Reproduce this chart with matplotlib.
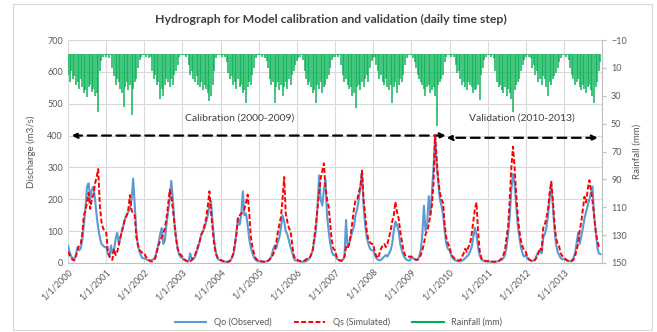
import numpy as np
import pandas as pd
import matplotlib
matplotlib.use("Agg")
import matplotlib.pyplot as plt
from matplotlib.lines import Line2D
from matplotlib.patches import Rectangle

plt.rcParams['font.family'] = ['Lato', 'DejaVu Sans']

# half-monthly readings (1st and 16th of each month)
years = list(range(2000, 2014))

qo = {
    2000: [55, 35, 20, 15, 12, 25, 50, 40, 45, 70, 120, 170, 240, 250, 200, 230, 240, 200, 150, 110, 80, 60, 55, 50],
    2001: [50, 30, 20, 55, 30, 40, 75, 95, 60, 80, 100, 120, 140, 150, 160, 170, 200, 265, 180, 100, 55, 35, 22, 15],
    2002: [15, 12, 10, 8, 8, 10, 12, 20, 40, 60, 90, 110, 60, 70, 120, 160, 200, 258, 200, 130, 80, 45, 25, 18],
    2003: [15, 10, 8, 6, 5, 30, 10, 12, 20, 35, 50, 70, 90, 100, 110, 130, 150, 180, 195, 130, 70, 35, 15, 10],
    2004: [8, 6, 5, 4, 4, 5, 8, 15, 25, 50, 100, 140, 120, 150, 225, 150, 155, 120, 75, 50, 30, 18, 10, 6],
    2005: [6, 5, 4, 4, 4, 5, 6, 10, 20, 40, 55, 45, 65, 80, 110, 150, 130, 100, 90, 70, 50, 35, 15, 8],
    2006: [8, 6, 5, 4, 4, 5, 6, 10, 15, 25, 40, 70, 100, 170, 275, 200, 180, 230, 260, 150, 100, 60, 35, 25],
    2007: [25, 15, 10, 8, 8, 10, 20, 135, 50, 60, 80, 100, 114, 150, 170, 200, 240, 287, 180, 120, 80, 60, 45, 40],
    2008: [40, 25, 15, 10, 8, 10, 15, 20, 25, 20, 30, 40, 60, 100, 130, 120, 100, 60, 40, 25, 15, 10, 8, 8],
    2009: [20, 15, 12, 10, 10, 20, 40, 90, 180, 100, 120, 210, 150, 220, 300, 400, 300, 250, 200, 180, 150, 100, 60, 45],
    2010: [40, 25, 15, 10, 8, 6, 5, 5, 8, 10, 15, 20, 25, 35, 50, 80, 110, 90, 50, 25, 12, 8, 6, 5],
    2011: [5, 5, 4, 4, 4, 4, 5, 6, 8, 10, 15, 25, 50, 90, 150, 230, 280, 250, 180, 120, 80, 50, 30, 20],
    2012: [25, 15, 10, 8, 6, 8, 12, 25, 35, 40, 30, 80, 90, 110, 150, 200, 250, 180, 110, 60, 35, 25, 15, 12],
    2013: [12, 10, 8, 6, 5, 8, 15, 30, 60, 95, 60, 85, 110, 140, 160, 180, 200, 220, 240, 150, 100, 50, 30, 28],
}

qs = {
    2000: [35, 25, 15, 10, 8, 20, 40, 55, 60, 90, 150, 165, 190, 220, 170, 200, 215, 250, 270, 295, 180, 130, 110, 100],
    2001: [95, 40, 20, 12, 10, 45, 25, 35, 55, 80, 100, 120, 140, 150, 170, 213, 165, 155, 150, 83, 55, 40, 36, 30],
    2002: [30, 20, 12, 8, 5, 5, 8, 15, 35, 55, 70, 80, 90, 110, 140, 180, 230, 210, 170, 120, 75, 45, 30, 25],
    2003: [20, 12, 8, 5, 4, 5, 10, 18, 25, 40, 55, 70, 90, 100, 120, 140, 180, 225, 160, 110, 55, 30, 18, 12],
    2004: [10, 7, 5, 4, 3, 4, 6, 15, 30, 60, 90, 145, 150, 155, 160, 170, 190, 215, 160, 83, 50, 30, 15, 10],
    2005: [10, 6, 5, 4, 4, 5, 8, 12, 20, 25, 40, 60, 95, 120, 145, 200, 270, 155, 130, 110, 100, 60, 25, 12],
    2006: [10, 8, 6, 5, 5, 8, 12, 15, 15, 25, 40, 80, 120, 170, 220, 265, 290, 313, 240, 200, 177, 120, 70, 45],
    2007: [40, 20, 12, 8, 6, 10, 20, 50, 45, 60, 90, 130, 170, 198, 200, 220, 240, 290, 200, 150, 100, 72, 65, 60],
    2008: [60, 35, 20, 15, 30, 45, 55, 60, 50, 60, 80, 100, 130, 150, 192, 160, 140, 100, 70, 40, 25, 20, 20, 20],
    2009: [20, 15, 12, 10, 10, 15, 25, 40, 60, 90, 100, 120, 150, 180, 250, 400, 320, 260, 220, 200, 188, 120, 80, 62],
    2010: [50, 30, 20, 15, 12, 10, 8, 10, 20, 30, 45, 35, 50, 60, 90, 130, 170, 190, 100, 40, 15, 10, 8, 6],
    2011: [6, 5, 5, 4, 4, 4, 5, 6, 10, 15, 25, 40, 80, 114, 200, 300, 365, 300, 220, 150, 100, 70, 51, 40],
    2012: [35, 20, 12, 8, 6, 8, 10, 20, 30, 47, 40, 110, 120, 140, 170, 220, 255, 200, 130, 80, 60, 51, 30, 22],
    2013: [18, 12, 8, 6, 5, 6, 10, 20, 40, 60, 103, 130, 170, 208, 190, 230, 260, 230, 195, 150, 100, 70, 52, 47],
}

rain = {
    2000: [15, 20, 12, 18, 16, 22, 20, 25, 18, 24, 28, 26, 31, 24, 22, 27, 25, 30, 28, 42, 12, 5, 2, 1],
    2001: [2, 1, 3, 1, 10, 16, 22, 18, 20, 25, 28, 38, 24, 20, 26, 22, 44, 25, 20, 18, 10, 4, 2, 1],
    2002: [1, 2, 1, 3, 2, 12, 18, 15, 22, 20, 32, 25, 30, 22, 18, 20, 24, 18, 22, 15, 12, 8, 2, 1],
    2003: [1, 1, 2, 1, 8, 15, 12, 18, 20, 16, 22, 24, 20, 26, 22, 25, 28, 34, 30, 22, 12, 3, 1, 1],
    2004: [1, 2, 1, 2, 6, 14, 18, 16, 22, 20, 25, 18, 24, 22, 28, 26, 35, 24, 20, 22, 15, 10, 3, 1],
    2005: [1, 1, 2, 1, 3, 5, 10, 18, 22, 20, 35, 24, 20, 26, 22, 30, 24, 20, 25, 18, 22, 15, 12, 8],
    2006: [5, 3, 2, 1, 4, 12, 18, 22, 20, 24, 28, 26, 35, 22, 25, 20, 28, 24, 22, 18, 15, 10, 4, 2],
    2007: [2, 1, 2, 1, 8, 15, 20, 18, 22, 25, 24, 30, 28, 39, 24, 22, 26, 20, 24, 18, 15, 20, 10, 5],
    2008: [3, 2, 8, 12, 18, 15, 20, 22, 18, 24, 26, 22, 35, 24, 20, 28, 22, 18, 20, 15, 8, 3, 1, 1],
    2009: [1, 3, 6, 10, 15, 18, 20, 22, 25, 30, 24, 22, 28, 26, 24, 30, 52, 22, 20, 18, 15, 6, 2, 1],
    2010: [1, 2, 1, 2, 8, 14, 12, 18, 22, 20, 24, 26, 20, 22, 24, 28, 26, 25, 22, 33, 15, 10, 4, 2],
    2011: [1, 1, 2, 1, 3, 12, 20, 24, 22, 26, 28, 24, 30, 25, 28, 32, 42, 26, 22, 20, 18, 12, 8, 4],
    2012: [2, 1, 2, 3, 10, 8, 15, 12, 20, 18, 22, 16, 18, 24, 30, 20, 22, 18, 16, 14, 10, 6, 3, 1],
    2013: [1, 2, 1, 4, 10, 15, 18, 22, 20, 18, 24, 26, 22, 25, 28, 24, 22, 26, 30, 35, 24, 20, 12, 6],
}

dates = pd.to_datetime([f"{y}-{m:02d}-{d:02d}" for y in years for m in range(1, 13) for d in (1, 16)])
qo_all = np.concatenate([qo[y] for y in years])
qs_all = np.concatenate([qs[y] for y in years])
rain_all = np.concatenate([rain[y] for y in years])

grey = '#595959'
fig = plt.figure(figsize=(6.57, 3.32), dpi=100)
ax = fig.add_axes([68 / 657, 1 - 263 / 332, (602 - 68) / 657, (263 - 40) / 332])
ax2 = ax.twinx()

l1, = ax.plot(dates, qo_all, color='#5B9BD5', lw=1.5, label='Qo (Observed)', zorder=3)
l2, = ax.plot(dates, qs_all, color='#FF0000', lw=1.4, ls=(0, (2.5, 1.2)), label='Qs (Simulated)', zorder=4)
ax2.vlines(dates, 0, rain_all, color='#00B050', lw=1.3, alpha=0.8)
l3 = Line2D([], [], color='#00B050', lw=1.5, label='Rainfall (mm)')

ax.set_xlim(pd.Timestamp('2000-01-01'), pd.Timestamp('2013-12-31'))
ax.set_ylim(0, 700)
ax.set_yticks(range(0, 701, 100))
ax2.set_ylim(150, -10)
ax2.set_yticks(range(-10, 151, 20))

xt = pd.to_datetime([f"{y}-01-01" for y in years])
ax.set_xticks(xt)
ax.set_xticklabels([f"1/1/{y}" for y in years], rotation=45, ha='right', rotation_mode='anchor')

ax.grid(True, color='#D9D9D9', lw=0.8)
ax.set_axisbelow(True)
for s in ['top', 'left', 'right']:
    ax.spines[s].set_visible(False)
ax.spines['bottom'].set_color('#BFBFBF')
for s in ['top', 'left', 'bottom']:
    ax2.spines[s].set_visible(False)
ax2.spines['right'].set_color('#BFBFBF')
ax.tick_params(axis='both', colors=grey, labelsize=6.5, length=0)
ax.tick_params(axis='x', pad=3)
ax2.tick_params(axis='y', colors=grey, labelsize=6.5, length=3, color='#BFBFBF')

ax.set_ylabel('Discharge (m3/s)', color=grey, fontsize=7, labelpad=8)
ax2.set_ylabel('Rainfall (mm)', color=grey, fontsize=7, rotation=90, labelpad=4)

# calibration / validation periods
arrow = dict(arrowstyle='<|-|>', ls=(0, (4, 2.5)), lw=1.6, color='black', mutation_scale=8, shrinkA=0, shrinkB=0)
ax.annotate('', xy=(pd.Timestamp('2000-02-05'), 400), xytext=(pd.Timestamp('2009-11-25'), 400), arrowprops=arrow)
ax.annotate('', xy=(pd.Timestamp('2009-12-05'), 393), xytext=(pd.Timestamp('2013-11-20'), 393), arrowprops=arrow)
ax.text(pd.Timestamp('2004-06-27'), 455, 'Calibration (2000-2009)', ha='center', va='center', fontsize=7.5, color='#404040')
ax.text(pd.Timestamp('2011-11-25'), 455, 'Validation (2010-2013)', ha='center', va='center', fontsize=7.5, color='#404040')

fig.text(0.503, 1 - 19 / 332, 'Hydrograph for Model calibration and validation (daily time step)',
         ha='center', va='center', fontsize=8.8, fontweight='bold', color='#404040')

fig.legend(handles=[l1, l2, l3], loc='center', bbox_to_anchor=(0.515, 1 - 322 / 332), ncol=3,
           frameon=False, fontsize=6.5, handlelength=3.5, columnspacing=2.5, labelcolor=grey)

fig.patches.append(Rectangle((13 / 657, 2 / 332), 639 / 657, 326 / 332, transform=fig.transFigure,
                             fill=False, edgecolor='#D9D9D9', lw=0.8))

fig.savefig('out.png', dpi=100)
